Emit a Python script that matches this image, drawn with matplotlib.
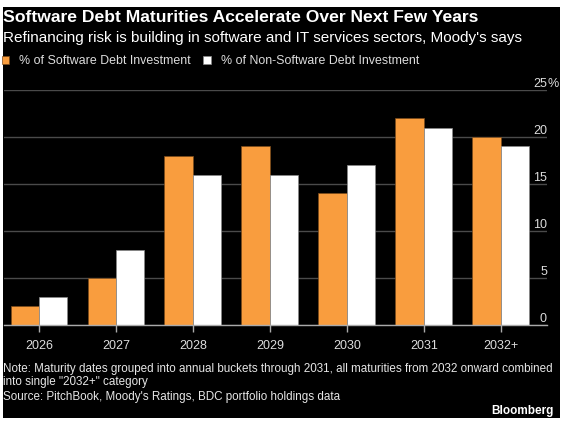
import numpy as np
import matplotlib
matplotlib.use('Agg')
import matplotlib.pyplot as plt
from matplotlib.patches import Rectangle

plt.rcParams['font.family'] = ['Liberation Sans', 'DejaVu Sans']

# data
years = ['2026', '2027', '2028', '2029', '2030', '2031', '2032+']
software = [2, 5, 18, 19, 14, 22, 20]
non_software = [3, 8, 16, 16, 17, 21, 19]
y_ticks = [0, 5, 10, 15, 20, 25]

orange = '#F99D3E'
W, H = 564, 423

fig = plt.figure(figsize=(W / 100, H / 100), dpi=100, facecolor='white')
# black panel inside the white margin
fig.patches.append(Rectangle((3 / W, 5 / H), 557 / W, 411 / H,
                             transform=fig.transFigure, facecolor='black',
                             edgecolor='none', zorder=-10))

ax = fig.add_axes([4 / W, (H - 325) / H, 543 / W, 235 / H])
ax.set_facecolor('black')

x = np.arange(len(years))
bw = 0.37
b1 = ax.bar(x - bw / 2, software, bw, color=orange, edgecolor='#7a4a1a',
            linewidth=0.5, label='% of Software Debt Investment', zorder=3)
b2 = ax.bar(x + bw / 2, non_software, bw, color='white', edgecolor='#888888',
            linewidth=0.5, label='% of Non-Software Debt Investment', zorder=3)

ax.set_xlim(-0.455, 6.6)
ax.set_ylim(0, 25)

for s in ['top', 'left', 'right']:
    ax.spines[s].set_visible(False)
ax.spines['bottom'].set_color('#aaaaaa')
ax.spines['bottom'].set_linewidth(1.0)
ax.spines['bottom'].set_zorder(4)

ax.set_yticks(y_ticks)
ax.yaxis.grid(True, color='#4a4a4a', linewidth=1.0, zorder=0)
ax.set_axisbelow(True)
ax.yaxis.tick_right()
ax.set_yticklabels([str(v) for v in y_ticks])
ax.tick_params(axis='y', length=0, pad=0, labelcolor='#dddddd', labelsize=9)
for lab in ax.get_yticklabels():
    lab.set_horizontalalignment('right')
    lab.set_verticalalignment('bottom')
# percent sign hangs to the right of the top label
ax.annotate('%', xy=(1, y_ticks[-1]), xycoords=('axes fraction', 'data'),
            ha='left', va='bottom', color='#dddddd', fontsize=9,
            annotation_clip=False)

ax.set_xticks(x)
ax.set_xticklabels(years)
ax.tick_params(axis='x', length=5, width=1, color='#aaaaaa', pad=6,
               labelcolor='#dddddd', labelsize=9)

# title block
fig.text(3 / W, 1 - 22 / H, 'Software Debt Maturities Accelerate Over Next Few Years',
         color='white', fontsize=12.6, fontweight='bold', va='baseline')
fig.text(3 / W, 1 - 42 / H,
         "Refinancing risk is building in software and IT services sectors, Moody's says",
         color='white', fontsize=11.0, va='baseline')

fig.legend(handles=[b1, b2], loc='center left', bbox_to_anchor=(2 / W, 1 - 61 / H),
           bbox_transform=fig.transFigure, ncol=2, frameon=False, fontsize=8.9,
           labelcolor='#dddddd', handlelength=0.6, handleheight=0.6,
           handletextpad=0.8, columnspacing=1.0, borderpad=0, borderaxespad=0)

fig.text(3 / W, 1 - 372 / H,
         'Note: Maturity dates grouped into annual buckets through 2031, all maturities from 2032 onward combined',
         color='#e6e6e6', fontsize=8.4, va='baseline')
fig.text(3 / W, 1 - 385 / H, 'into single "2032+" category',
         color='#e6e6e6', fontsize=8.4, va='baseline')
fig.text(3 / W, 1 - 400 / H, "Source: PitchBook, Moody's Ratings, BDC portfolio holdings data",
         color='#e6e6e6', fontsize=8.4, va='baseline')
fig.text(554 / W, 1 - 414 / H, 'Bloomberg', color='white', fontsize=8.5,
         fontweight='bold', ha='right', va='baseline')

fig.savefig('out.png', dpi=100, facecolor='white')
